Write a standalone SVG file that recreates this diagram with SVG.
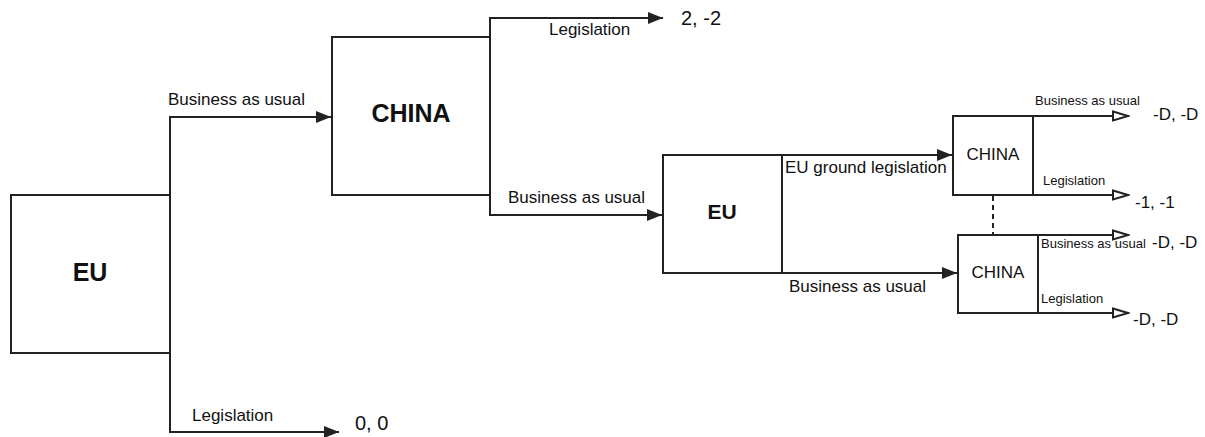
<svg xmlns="http://www.w3.org/2000/svg" width="1205" height="437" viewBox="0 0 1205 437">
<style>
.box{fill:#fff;stroke:#222;stroke-width:2}
.ln{fill:none;stroke:#222;stroke-width:2}
.dash{fill:none;stroke:#222;stroke-width:2;stroke-dasharray:5,4}
text{font-family:"Liberation Sans",Arial,sans-serif;fill:#111}
.big{font-size:25px;font-weight:bold}
.mid{font-size:21px;font-weight:bold}
.lbl{font-size:17px}
.sm{font-size:13px}
.pay{font-size:20px}
.pay2{font-size:17px}
</style>
<defs>
<marker id="fa" markerWidth="16" markerHeight="12" refX="15" refY="6" orient="auto" markerUnits="userSpaceOnUse">
<path d="M0,0 L15,6 L0,12 Z" fill="#222"/>
</marker>
<marker id="oa" markerWidth="18" markerHeight="12" refX="16" refY="6" orient="auto" markerUnits="userSpaceOnUse">
<path d="M1,1.5 L16,6 L1,10.5 Z" fill="#fff" stroke="#222" stroke-width="2"/>
</marker>
</defs>
<g id="connectors">
<path class="ln" d="M170,195 V117 H331" marker-end="url(#fa)"/>
<path class="ln" d="M170,353 V432 H339" marker-end="url(#fa)"/>
<path class="ln" d="M490,37 V18 H663" marker-end="url(#fa)"/>
<path class="ln" d="M490,195 V215 H662" marker-end="url(#fa)"/>
<path class="ln" d="M782,155 H952" marker-end="url(#fa)"/>
<path class="ln" d="M782,273 H957" marker-end="url(#fa)"/>
<path class="ln" d="M1033,116 H1128" marker-end="url(#oa)"/>
<path class="ln" d="M1033,195 H1128" marker-end="url(#oa)"/>
<path class="ln" d="M1038,235 H1128" marker-end="url(#oa)"/>
<path class="ln" d="M1038,313 H1128" marker-end="url(#oa)"/>
<path class="dash" d="M993,196 V234"/>
<text class="lbl" x="168" y="105">Business as usual</text>
<text class="lbl" x="192" y="421">Legislation</text>
<text class="lbl" x="549" y="35">Legislation</text>
<text class="lbl" x="508" y="203">Business as usual</text>
<text class="lbl" x="785" y="173">EU ground legislation</text>
<text class="lbl" x="789" y="292">Business as usual</text>
<text class="sm" x="1035" y="105">Business as usual</text>
<text class="sm" x="1043" y="185">Legislation</text>
<text class="sm" x="1041" y="248">Business as usual</text>
<text class="sm" x="1041" y="303">Legislation</text>
<text class="pay" x="681" y="25">2, -2</text>
<text class="pay" x="355" y="430">0, 0</text>
<text class="pay2" x="1153" y="120">-D, -D</text>
<text class="pay2" x="1135" y="208">-1, -1</text>
<text class="pay2" x="1152" y="248">-D, -D</text>
<text class="pay2" x="1133" y="325">-D, -D</text>
</g>
<g id="eu1">
<rect class="box" x="11" y="195" width="159" height="158"/>
<text class="big" x="90" y="281" text-anchor="middle">EU</text>
</g>
<g id="china1">
<rect class="box" x="332" y="37" width="158" height="158"/>
<text class="big" x="411" y="122" text-anchor="middle">CHINA</text>
</g>
<g id="eu2">
<rect class="box" x="663" y="155" width="119" height="118"/>
<text class="mid" x="722" y="219" text-anchor="middle">EU</text>
</g>
<g id="china2">
<rect class="box" x="953" y="116" width="80" height="79"/>
<text class="lbl" x="993" y="160" text-anchor="middle">CHINA</text>
</g>
<g id="china3">
<rect class="box" x="958" y="235" width="80" height="78"/>
<text class="lbl" x="998" y="278" text-anchor="middle">CHINA</text>
</g>
</svg>
